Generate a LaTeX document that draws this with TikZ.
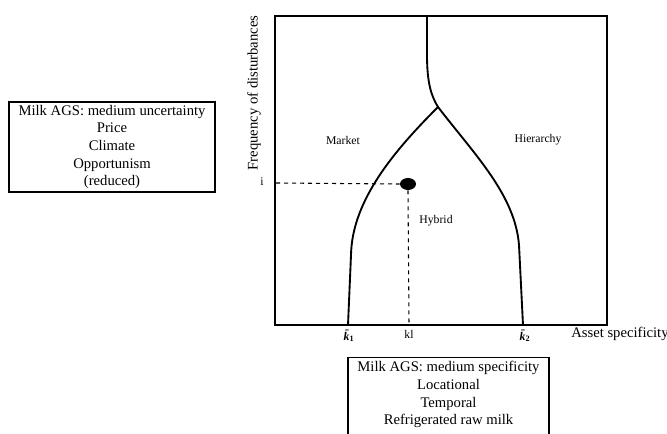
\documentclass[tikz,border=0pt]{standalone}
\usepackage{fontspec}
\setmainfont{Liberation Serif}
\usepackage{tikz}
\usetikzlibrary{shapes}
\tikzset{
	infobox/.style = {draw=black, line width=0.9pt, align=center, inner sep=2pt,
		font=\fontsize{11}{13.2}\selectfont},% boite d'information
	zone/.style = {font=\fontsize{8.8}{10}\selectfont},% nom de zone
	axislbl/.style = {font=\fontsize{11}{13.2}\selectfont},% titre d'axe
	tick/.style = {font=\fontsize{8.8}{10}\selectfont, inner sep=1pt},% graduation
	border/.style = {line width=1.4pt, line cap=round, line join=round}% frontiere
}
\newcommand{\kbar}[1]{{\bfseries\itshape k\char"0304\textsubscript{\upshape#1}}}

\begin{document}
\begin{tikzpicture}[x=0.75pt, y=-0.75pt]
		\useasboundingbox (0,0) rectangle (667,434);
		% cadre
		\draw[line width=1.1pt] (275,16) rectangle (607,325);
		\coordinate (top) at (427,16);
		\coordinate (fork) at (438,107);
		\coordinate (k1) at (348,325);
		\coordinate (k2) at (523,325);
		\draw[border] (top) -- (427,55) .. controls (427,85) and (432,97) .. (fork);
		\draw[border] (fork) .. controls (395,150) and (352,200) .. (351,255) -- (k1);
		\draw[border] (fork) .. controls (475,155) and (515,195) .. (519,245) -- (k2);
		% point kl, i
		\node[ellipse, fill=black, minimum width=16*0.75pt, minimum height=12*0.75pt,
			inner sep=0pt] (dot) at (408,184) {};
		\coordinate (iy) at (276,183);
		\coordinate (klx) at (409,325);
		\draw[dashed, line width=0.8pt] (iy) -- (dot.west);
		\draw[dashed, line width=0.8pt] (dot.south) -- (klx);
		% zones
		\node[zone] (market) at (343,140) {Market};
		\node[zone] (hierarchy) at (538,140) {Hierarchy};
		\node[zone] (hybrid) at (436,221) {Hybrid};
		% axes
		\node[tick] (ilbl) at (262,182) {i};
		\node[tick] (k1lbl) at (349,336) {\kbar{1}};
		\node[tick] (kllbl) at (409,334) {kl};
		\node[tick] (k2lbl) at (525,336) {\kbar{2}};
		\node[axislbl, anchor=west, inner sep=0pt] (xlbl) at (571,334) {Asset specificity};
		\node[axislbl, rotate=90, inner sep=0pt] (ylbl) at (254,93) {Frequency of disturbances};
		% boites
		\node[infobox, minimum width=206*0.75pt, minimum height=90*0.75pt] (uncert) at (112,147)
			{Milk AGS: medium uncertainty\\Price\\Climate\\Opportunism\\(reduced)};
		\node[infobox, minimum width=201*0.75pt, anchor=north, inner ysep=3pt] (specif) at (448.5,357)
			{Milk AGS: medium specificity\\Locational\\Temporal\\Refrigerated raw milk\\ \strut};
		;\end{tikzpicture}
\end{document}
